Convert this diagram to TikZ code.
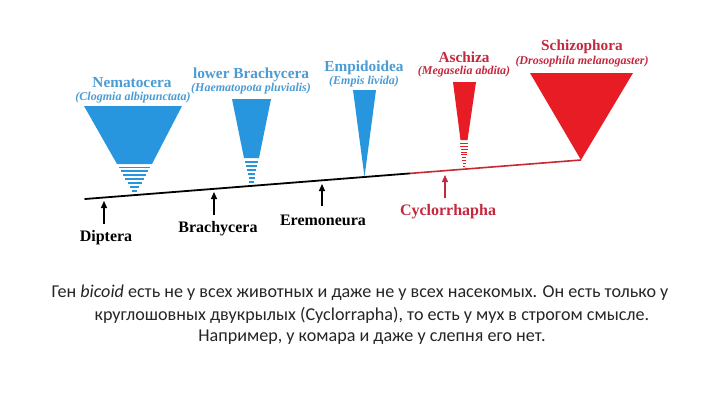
\documentclass[tikz,border=0pt]{standalone}
\usepackage{fontspec}
\setmainfont{Liberation Serif}
\newfontfamily\capfont{Carlito}
\usetikzlibrary{arrows.meta}
\definecolor{triblue}{RGB}{40,150,222}
\definecolor{lblblue}{RGB}{75,155,212}
\definecolor{trired}{RGB}{232,28,36}
\definecolor{lblred}{RGB}{196,40,62}
\definecolor{linered}{RGB}{200,40,50}
\tikzset{
  grp/.style={font=\fontsize{15.3}{17}\selectfont\bfseries, inner sep=0pt},
  spc/.style={font=\fontsize{12}{14}\selectfont\bfseries\itshape, inner sep=0pt},
  taxon/.style={font=\fontsize{16}{18}\selectfont\bfseries, inner sep=0pt},
  arr/.style={line width=1.4pt, -{Triangle[length=7pt,width=6pt]}},
  stripe/.style={line width=1.1pt},
  captxt/.style={font=\capfont\fontsize{18.1}{21}\selectfont, inner sep=0pt, text=black!85}
}
\begin{document}
\begin{tikzpicture}[x=1pt,y=-1pt]
\useasboundingbox[fill=white] (0,0) rectangle (720,405);

% baseline
\coordinate (L0) at (85,199);
\coordinate (Lm) at (410,173.4);
\coordinate (L1) at (581,160);
\draw[line width=1.8pt, line cap=round] (L0) -- (Lm);
\draw[line width=1.6pt, linered] (Lm) -- (L1);

% Nematocera
\fill[triblue] (84,106) -- (182,106) -- (152,164) -- (117,164) -- cycle;
\foreach \y/\h in {167.5/15.5,171/13.5,175/11.5,179/9.5,183/7,187/4.5,191/2.5}
  \draw[stripe, triblue] (134.5-\h,\y) -- (134.5+\h,\y);
\node[grp, text=lblblue] (nem) at (132,83) {Nematocera};
\node[spc, text=lblblue] (nems) at (133,97.5) {(Clogmia albipunctata)};

% lower Brachycera
\fill[triblue] (232,99) -- (271,99) -- (259,158) -- (244,158) -- cycle;
\foreach \y/\h in {162/6.5,166/5.5,170/4.5,174/3.5,178/3,182/2.5}
  \draw[stripe, triblue] (251.5-\h,\y) -- (251.5+\h,\y);
\node[grp, text=lblblue] (lb) at (251,75) {lower Brachycera};
\node[spc, text=lblblue] (lbs) at (251,89) {(Haematopota pluvialis)};

% Empidoidea
\fill[triblue] (353,90) -- (376,90) -- (364.5,177) -- cycle;
\node[grp, text=lblblue] (emp) at (364,68) {Empidoidea};
\node[spc, text=lblblue] (emps) at (364,82) {(Empis livida)};

% Aschiza
\fill[trired] (453,82) -- (476,82) -- (467.5,140) -- (460.5,140) -- cycle;
\foreach \y/\h in {143/4,146/3.8,149/3.5,152/3.2,154.5/2.8,157/2.4,160/2,163/1.5,166/1}
  \draw[line width=1pt, trired] (464-\h,\y) -- (464+\h,\y);
\node[grp, text=lblred] (asc) at (464,57) {Aschiza};
\node[spc, text=lblred] (ascs) at (464,72) {(Megaselia abdita)};

% Schizophora
\fill[trired] (530,73) -- (633,73) -- (L1) -- cycle;
\node[grp, text=lblred] (sch) at (582,47) {Schizophora};
\node[spc, text=lblred] (schs) at (582,61.5) {(Drosophila melanogaster)};

% taxa and arrows
\node[taxon] (dip) at (106,238) {Diptera};
\node[taxon] (bra) at (218,229) {Brachycera};
\node[taxon] (ere) at (323,220) {Eremoneura};
\node[taxon, text=lblred] (cyc) at (448,212) {Cyclorrhapha};
\coordinate (dT) at (104,224); \coordinate (dH) at (104,201);
\coordinate (bT) at (214,215); \coordinate (bH) at (214,192);
\coordinate (eT) at (322,206); \coordinate (eH) at (322,184);
\coordinate (cT) at (445,198); \coordinate (cH) at (445,175);
\draw[arr] (dT) -- (dH);
\draw[arr] (bT) -- (bH);
\draw[arr] (eT) -- (eH);
\draw[arr, draw=lblred, fill=lblred, line width=1.1pt] (cT) -- (cH);

% caption
\node[captxt] (cap1) at (360,293) {Ген \textit{bicoid} есть не у всех животных и даже не у всех насекомых. Он есть только у};
\node[captxt] (cap2) at (372,315) {круглошовных двукрылых (Cyclorrapha), то есть у мух в строгом смысле.};
\node[captxt] (cap3) at (372,337) {Например, у комара и даже у слепня его нет.};
\end{tikzpicture}
\end{document}
